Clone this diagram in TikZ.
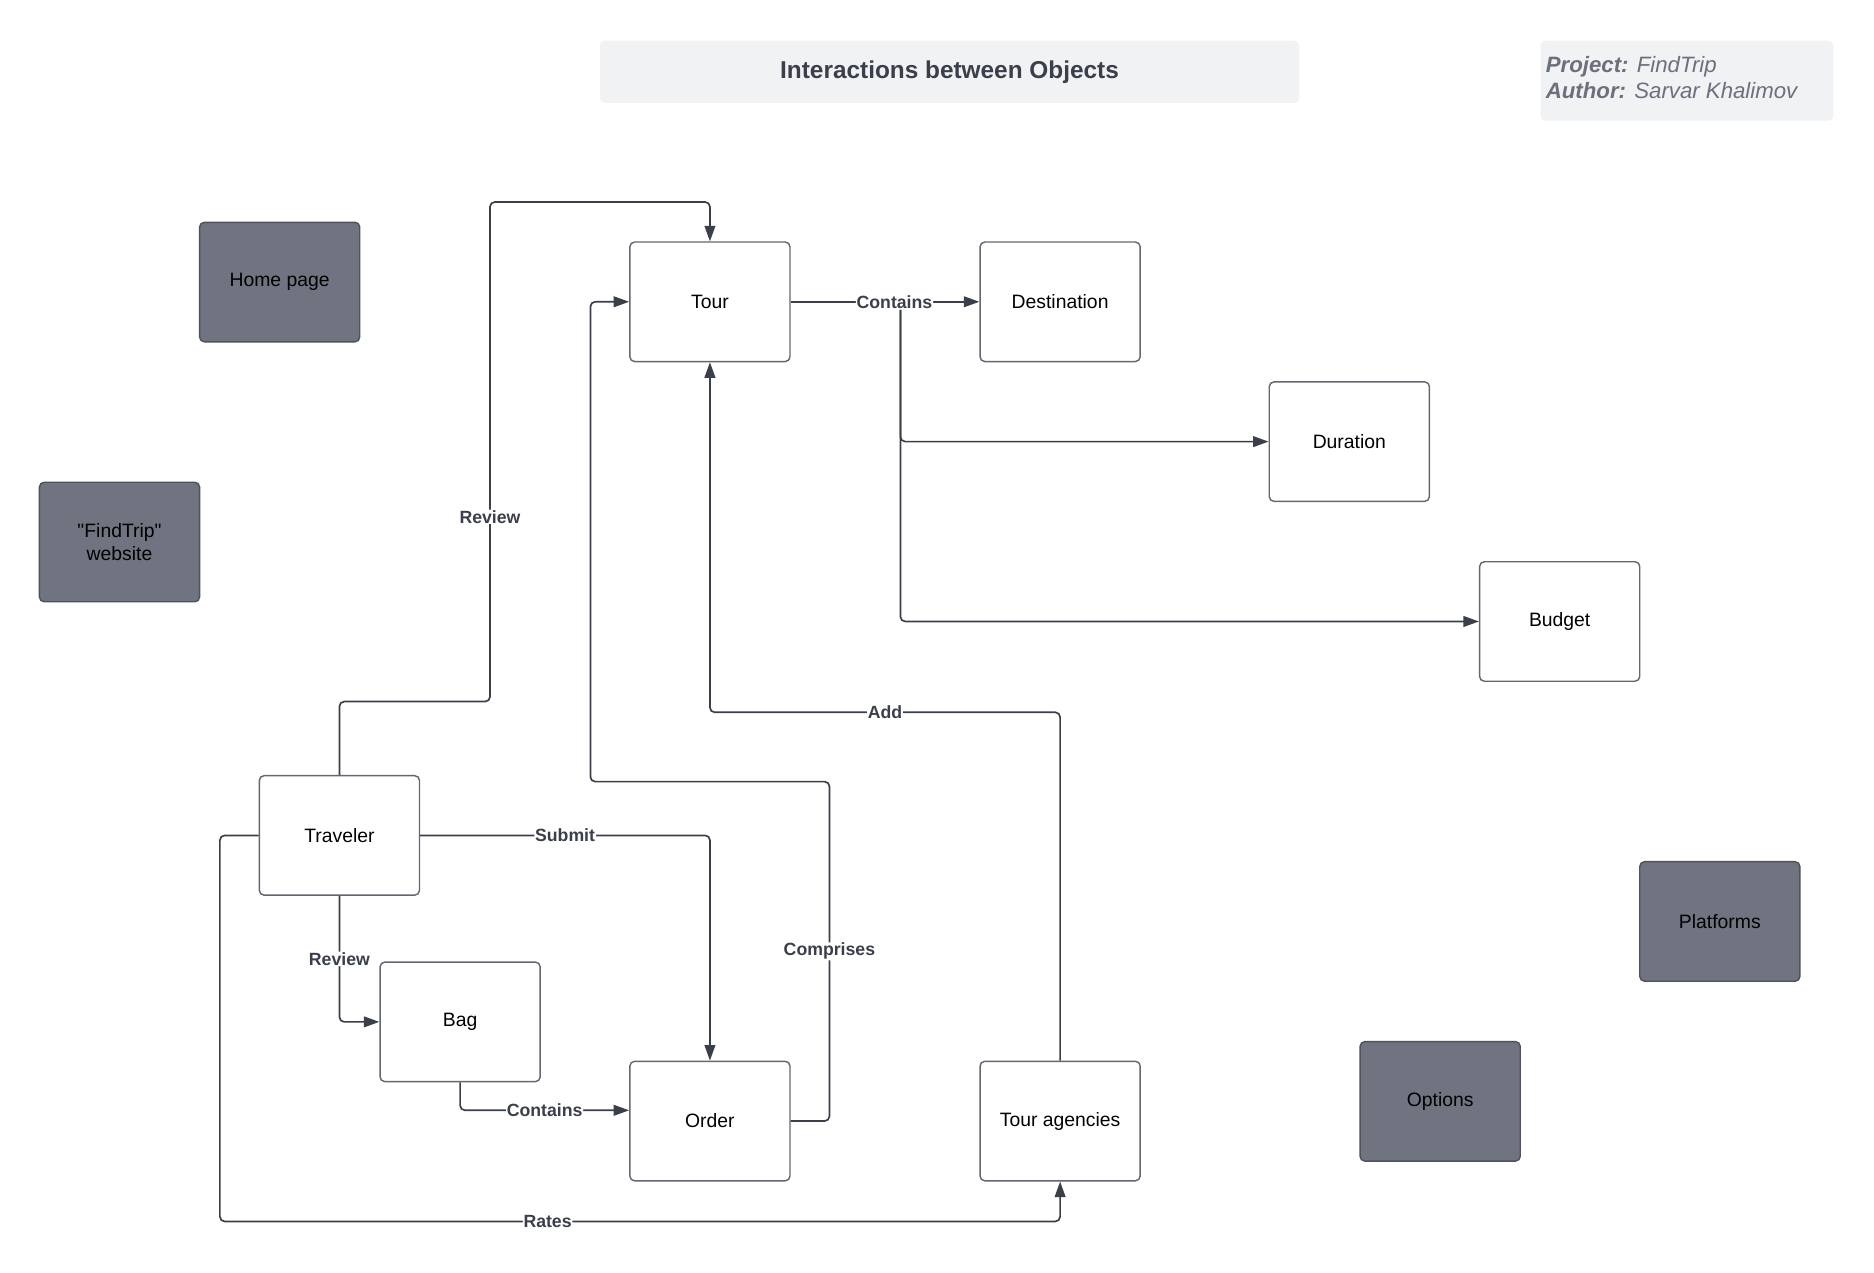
\documentclass[tikz,border=0pt]{standalone}
\usepackage{fontspec}
\setmainfont{Liberation Sans}
\usetikzlibrary{arrows.meta}
\definecolor{boxgray}{RGB}{111,116,128}
\definecolor{edgegray}{RGB}{98,103,114}
\definecolor{linegray}{RGB}{58,63,74}
\definecolor{panel}{RGB}{241,242,244}
\definecolor{infotext}{RGB}{107,112,124}
\begin{document}
\begin{tikzpicture}
[x=0.5pt, y=-0.5pt, >={Triangle[length=6.5pt,width=4.5pt]}, rounded corners=2pt,
 box/.style={draw=edgegray, line width=0.6pt, fill=white, minimum width=67pt, minimum height=50pt,
   inner sep=0pt, align=center, font=\fontsize{8.1}{9.6}\selectfont},
 darkbox/.style={box, fill=boxgray, draw=edgegray!80!black},
 lbl/.style={fill=white, inner sep=0.3pt, text=linegray, font=\bfseries\fontsize{7.4}{8}\selectfont},
 conn/.style={draw=linegray, line width=0.7pt}]
\useasboundingbox (0,0) rectangle (1568,1065);

% header
\node (Title) at (794.5,60) [fill=panel, rounded corners=2pt, minimum width=292.5pt, minimum height=26pt,
  text=linegray, font=\bfseries\fontsize{10.2}{12}\selectfont] {Interactions between Objects};
\node (Info) at (1411.5,67.5) [fill=panel, rounded corners=2pt, minimum width=122.5pt, minimum height=33.5pt] {};
\node (InfoText) at (1293,65) [anchor=west, align=left, inner sep=0pt, text=infotext,
  font=\fontsize{9.3}{11}\selectfont] {\textbf{\textit{Project:}} \textit{FindTrip}\\\textbf{\textit{Author:}} \textit{Sarvar Khalimov}};

% objects
\node (Home) at (234,236) [darkbox] {Home page};
\node (Site) at (100,453.5) [darkbox] {\textquotedbl FindTrip\textquotedbl\\website};
\node (Tour) at (594,252.5) [box] {Tour};
\node (Dest) at (887,252.5) [box] {Destination};
\node (Dur) at (1129,369.5) [box] {Duration};
\node (Budget) at (1305,520) [box] {Budget};
\node (Traveler) at (284,699) [box] {Traveler};
\node (Bag) at (385,855) [box] {Bag};
\node (Order) at (594,938) [box] {Order};
\node (TA) at (887,938) [box] {Tour agencies};
\node (Plat) at (1439,771) [darkbox] {Platforms};
\node (Opt) at (1205,921.5) [darkbox] {Options};

% connectors
\draw[conn,->] (Tour) -- node[lbl,pos=.55] (cont) {Contains} (Dest);
\draw[conn,->] ([xshift=2.5pt]cont.south) |- (Dur);
\draw[conn,->] ([xshift=2.5pt]cont.south) |- (Budget);
\draw[conn,->] (Traveler.north) |- (410,587) -- node[lbl,pos=.37] {Review} (410,169) -| (Tour.north);
\draw[conn,->] (Order.east) -| node[lbl,pos=.75] {Comprises} (694,654) -- (494,654) |- (Tour.west);
\draw[conn,->] (TA.north) |- node[lbl,pos=.75] {Add} (594,596) -- (Tour.south);
\draw[conn,->] (Traveler.east) -| node[lbl,pos=.25] {Submit} (Order.north);
\draw[conn,->] (Traveler.south) |- node[lbl,pos=.25] {Review} (Bag.west);
\draw[conn,->] (Bag.south) |- node[lbl,pos=.75] {Contains} ([yshift=4.5pt]Order.west);
\draw[conn,->] (Traveler.west) -| (184,1022) -- node[lbl,pos=.39] {Rates} (887,1022) -- (TA.south);
\end{tikzpicture}
\end{document}
